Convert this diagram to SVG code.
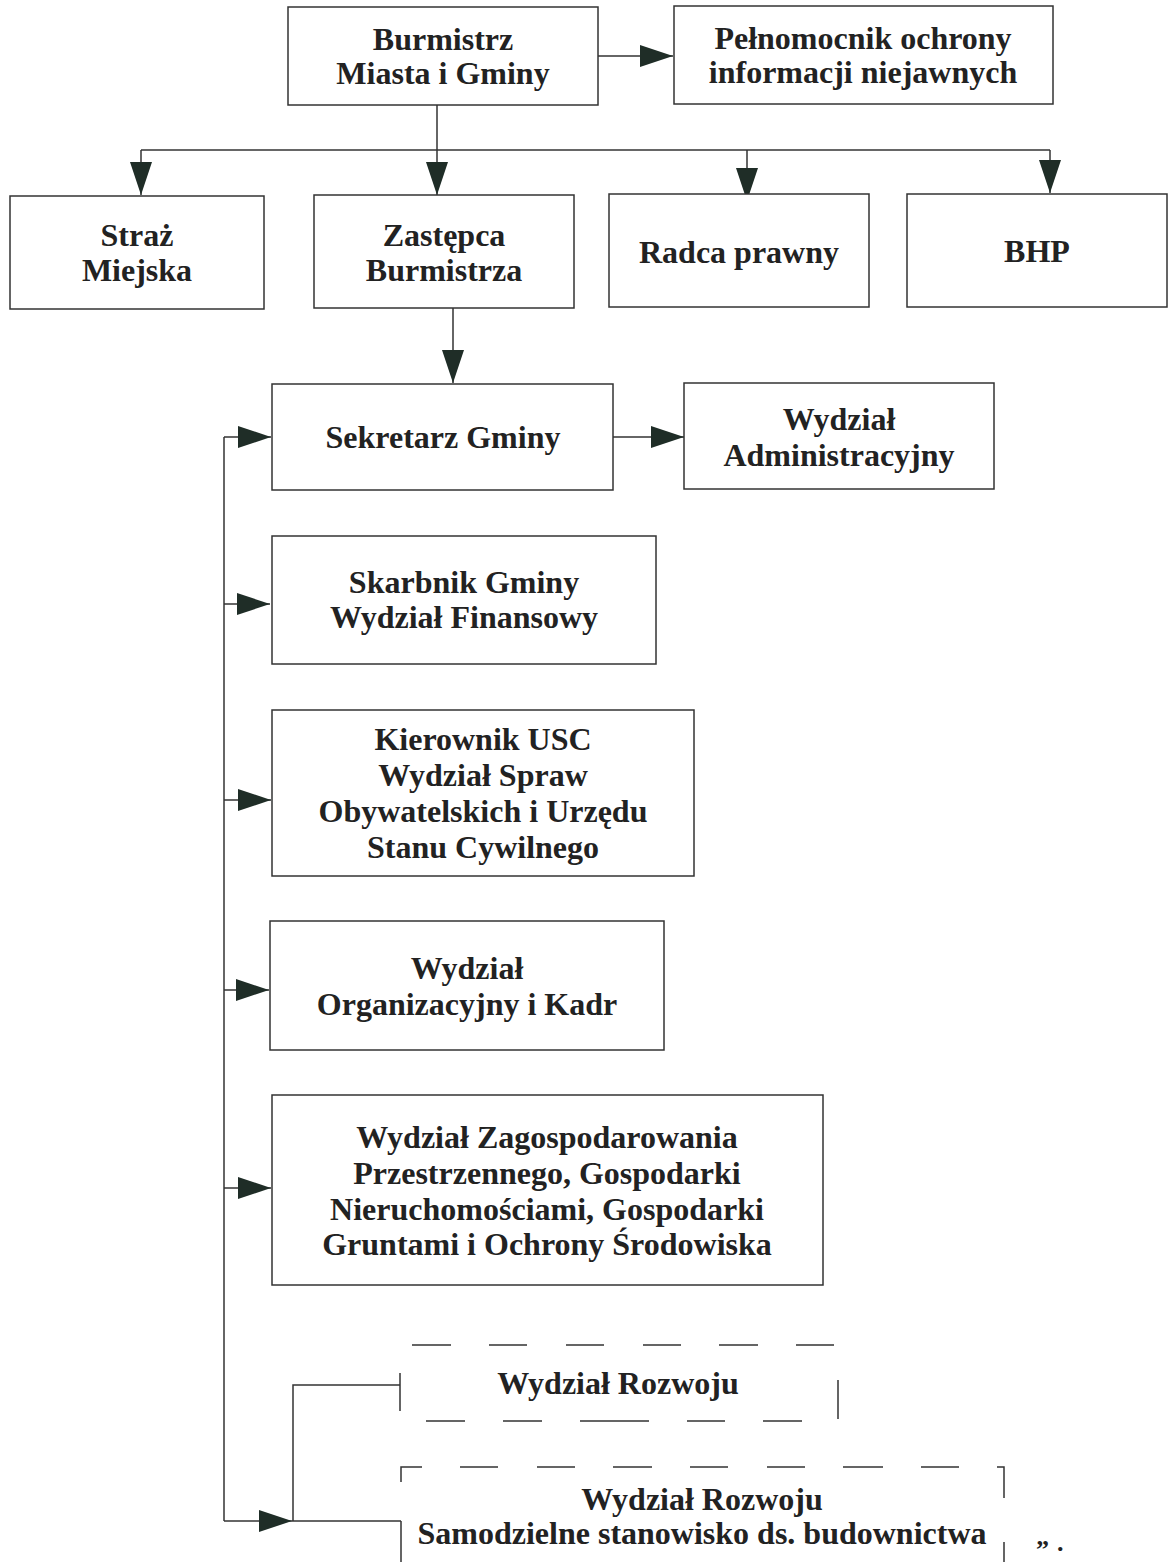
<svg xmlns="http://www.w3.org/2000/svg" width="1174" height="1562" viewBox="0 0 1174 1562">
<defs>
<style>
.box{fill:#fff;stroke:#333;stroke-width:1.5}
.t{font-family:"Liberation Serif","Times New Roman",serif;font-weight:bold;font-size:32px;fill:#222;text-anchor:middle}
.ln{fill:none;stroke:#333;stroke-width:1.5}
.ar{fill:none;stroke:#333;stroke-width:1.5;marker-end:url(#ah)}
</style>
<marker id="ah" markerUnits="userSpaceOnUse" markerWidth="34" markerHeight="22" refX="33" refY="11" orient="auto">
<path d="M0,0 L33,11 L0,22 z" fill="#1f2d27"/>
</marker>
</defs>
<rect width="1174" height="1562" fill="#fff"/>

<g id="connectors">
<path class="ar" d="M598,56 H673"/>
<path class="ln" d="M437,105 V150"/>
<path class="ln" d="M141,150 H1050"/>
<path class="ar" d="M141,150 V195"/>
<path class="ar" d="M437,150 V195"/>
<path class="ar" d="M747,150 V201"/>
<path class="ar" d="M1050,150 V193"/>
<path class="ar" d="M453,308 V383"/>
<path class="ar" d="M613,437 H684"/>
<path class="ln" d="M224,437 V1521"/>
<path class="ar" d="M224,437 H271"/>
<path class="ar" d="M224,604 H270"/>
<path class="ar" d="M224,800 H271"/>
<path class="ar" d="M224,990 H269"/>
<path class="ar" d="M224,1188 H271"/>
<path class="ar" d="M224,1521 H292"/>
<path class="ln" d="M292,1521 H401"/>
<path class="ln" d="M293,1521 V1385 H400"/>
</g>

<g id="burmistrz">
<rect class="box" x="288" y="7" width="310" height="98"/>
<text class="t" x="443" y="50">Burmistrz</text>
<text class="t" x="443" y="84">Miasta i Gminy</text>
</g>
<g id="pelnomocnik">
<rect class="box" x="674" y="6" width="379" height="98"/>
<text class="t" x="863" y="49">Pełnomocnik ochrony</text>
<text class="t" x="863" y="83">informacji niejawnych</text>
</g>
<g id="straz">
<rect class="box" x="10" y="196" width="254" height="113"/>
<text class="t" x="137" y="246">Straż</text>
<text class="t" x="137" y="281">Miejska</text>
</g>
<g id="zastepca">
<rect class="box" x="314" y="195" width="260" height="113"/>
<text class="t" x="444" y="246">Zastępca</text>
<text class="t" x="444" y="281">Burmistrza</text>
</g>
<g id="radca">
<rect class="box" x="609" y="194" width="260" height="113"/>
<text class="t" x="739" y="263">Radca prawny</text>
</g>
<g id="bhp">
<rect class="box" x="907" y="194" width="260" height="113"/>
<text class="t" x="1037" y="262">BHP</text>
</g>
<g id="sekretarz">
<rect class="box" x="272" y="384" width="341" height="106"/>
<text class="t" x="443" y="448">Sekretarz Gminy</text>
</g>
<g id="administracyjny">
<rect class="box" x="684" y="383" width="310" height="106"/>
<text class="t" x="839" y="430">Wydział</text>
<text class="t" x="839" y="466">Administracyjny</text>
</g>
<g id="skarbnik">
<rect class="box" x="272" y="536" width="384" height="128"/>
<text class="t" x="464" y="593">Skarbnik Gminy</text>
<text class="t" x="464" y="628">Wydział Finansowy</text>
</g>
<g id="usc">
<rect class="box" x="272" y="710" width="422" height="166"/>
<text class="t" x="483" y="750">Kierownik USC</text>
<text class="t" x="483" y="786">Wydział Spraw</text>
<text class="t" x="483" y="822">Obywatelskich i Urzędu</text>
<text class="t" x="483" y="858">Stanu Cywilnego</text>
</g>
<g id="organizacyjny">
<rect class="box" x="270" y="921" width="394" height="129"/>
<text class="t" x="467" y="979">Wydział</text>
<text class="t" x="467" y="1015">Organizacyjny i Kadr</text>
</g>
<g id="zagospodarowania">
<rect class="box" x="272" y="1095" width="551" height="190"/>
<text class="t" x="547" y="1148">Wydział Zagospodarowania</text>
<text class="t" x="547" y="1184">Przestrzennego, Gospodarki</text>
<text class="t" x="547" y="1220">Nieruchomościami, Gospodarki</text>
<text class="t" x="547" y="1255">Gruntami i Ochrony Środowiska</text>
</g>
<g id="rozwoju1">
<path class="ln" d="M412,1345 H451 M489,1345 H527 M566,1345 H604 M643,1345 H681 M719,1345 H758 M796,1345 H834"/>
<path class="ln" d="M400,1373 V1411 M838,1380 V1419"/>
<path class="ln" d="M426,1421 H465 M503,1421 H542 M580,1421 H649 M687,1421 H725 M763,1421 H802"/>
<text class="t" x="618" y="1394">Wydział Rozwoju</text>
</g>
<g id="rozwoju2">
<path class="ln" d="M401,1482 V1467 H422 M460,1467 H498 M537,1467 H575 M613,1467 H652 M690,1467 H728 M767,1467 H805 M843,1467 H883 M921,1467 H959 M997,1467 H1004 V1498"/>
<path class="ln" d="M401,1521 V1562 M1004,1542 V1562"/>
<text class="t" x="702" y="1510">Wydział Rozwoju</text>
<text class="t" x="702" y="1544">Samodzielne stanowisko ds. budownictwa</text>
</g>
<text class="t" x="1036" y="1558" style="text-anchor:start;font-size:26px">”<tspan dx="8" dy="-7">.</tspan></text>
</svg>
